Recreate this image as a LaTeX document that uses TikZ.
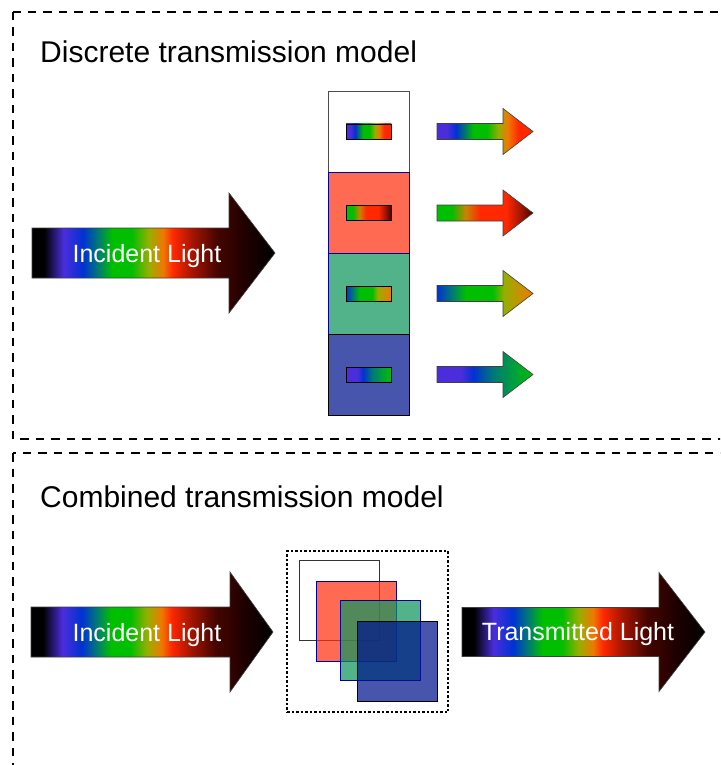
\documentclass[tikz,border=0pt]{standalone}
\usepackage{fontspec}
\setmainfont{Liberation Sans}
\usepackage{xcolor}
\usetikzlibrary{positioning}

% spectrum colours
\definecolor{spViolet}{RGB}{75,45,220}
\definecolor{spBlue}{RGB}{0,50,210}
\definecolor{spTeal}{RGB}{0,120,120}
\definecolor{spGreen}{RGB}{0,190,0}
\definecolor{spLime}{RGB}{150,175,0}
\definecolor{spAmber}{RGB}{205,130,0}
\definecolor{spOrange}{RGB}{240,120,0}
\definecolor{spRed}{RGB}{255,40,0}
\definecolor{spMaroon}{RGB}{165,20,0}
\definecolor{spBrown}{RGB}{70,5,0}
\definecolor{spDark}{RGB}{30,0,0}
\definecolor{spSea}{RGB}{0,160,60}
% filter colours (drawn at 72% opacity)
\definecolor{filtred}{RGB}{255,49,15}
\definecolor{filtgreen}{RGB}{15,149,93}
\definecolor{filtblue}{RGB}{0,21,140}

% the path box maps onto 25bp..75bp
\pgfdeclarehorizontalshading{spectrum}{100bp}{color(0bp)=(black); color(25bp)=(black);
  color(27.5bp)=(black); color(31.5bp)=(spViolet); color(35.5bp)=(spBlue);
  color(38.5bp)=(spTeal); color(41.5bp)=(spGreen); color(45.5bp)=(spGreen);
  color(49bp)=(spLime); color(52bp)=(spOrange); color(54bp)=(spRed);
  color(58bp)=(spMaroon); color(63bp)=(spBrown); color(69bp)=(spDark);
  color(75bp)=(black); color(100bp)=(black)}
\pgfdeclarehorizontalshading{specwhite}{100bp}{color(0bp)=(spViolet); color(25bp)=(spViolet);
  color(30bp)=(spViolet); color(35bp)=(spBlue); color(44bp)=(spGreen); color(51bp)=(spGreen);
  color(57bp)=(spLime); color(62bp)=(spOrange); color(67.5bp)=(spRed);
  color(75bp)=(spRed); color(100bp)=(spRed)}
\pgfdeclarehorizontalshading{specred}{100bp}{color(0bp)=(spGreen); color(25bp)=(spGreen);
  color(32.5bp)=(spGreen); color(40bp)=(spAmber); color(47.5bp)=(spRed);
  color(61bp)=(spRed); color(68.5bp)=(spMaroon); color(75bp)=(spBrown); color(100bp)=(spBrown)}
\pgfdeclarehorizontalshading{specgreen}{100bp}{color(0bp)=(spBlue); color(25bp)=(spBlue);
  color(32.5bp)=(spTeal); color(40bp)=(spGreen); color(54bp)=(spGreen);
  color(60bp)=(spLime); color(75bp)=(spOrange); color(100bp)=(spOrange)}
\pgfdeclarehorizontalshading{specblue}{100bp}{color(0bp)=(spViolet); color(25bp)=(spViolet);
  color(37.5bp)=(spViolet); color(44bp)=(spBlue); color(54bp)=(spTeal);
  color(65bp)=(spSea); color(75bp)=(spGreen); color(100bp)=(spGreen)}

\tikzstyle{filter} = [draw, line width=0.8pt, minimum size=81pt, inner sep=0pt, outer sep=0pt,
  fill opacity=0.72, draw opacity=1]
\tikzstyle{swatch} = [draw=black, line width=0.8pt, minimum width=45pt, minimum height=15pt,
  inner sep=0pt, shade]
\tikzstyle{beam} = [draw=black!75, line width=0.6pt]

% shading, tail x, centre y, head base x, tip x, shaft half width, head half width
\newcommand{\lightbeam}[7]{%
  \shade[beam, shading=#1] (#2,#3-#6) -- (#4,#3-#6) -- (#4,#3-#7) -- (#5,#3)
    -- (#4,#3+#7) -- (#4,#3+#6) -- (#2,#3+#6) -- cycle;}

\begin{document}
\begin{tikzpicture}[x=1pt, y=-1pt,
    section/.style={draw=black, line width=1.1pt, dash pattern=on 8.5pt off 7pt},
    title/.style={anchor=base west, inner sep=0pt, font=\fontsize{30}{36}\selectfont},
    beamtext/.style={anchor=base, inner sep=0pt, text=white, font=\fontsize{25}{30}\selectfont},
  ]
  \useasboundingbox (0,0) rectangle (720,765);
  \clip (0,0) rectangle (720,765);

  \draw[section] (13,12) rectangle (760,439);
  \draw[section] (13,453) rectangle (760,800);

  %% discrete model
  \node[title] (discrete) at (40,63) {Discrete transmission model};

  \lightbeam{spectrum}{32}{253}{229}{275}{25}{60}
  \node[beamtext] (incidenta) at (147,262) {Incident Light};

  \node[filter, draw=black!70, fill=white] (fwhite) at (368.5,131.5) {};
  \node[filter, draw=blue!60!black, fill=filtred, below=0pt of fwhite] (fred) {};
  \node[filter, draw=blue!60!black, fill=filtgreen, below=0pt of fred] (fgreen) {};
  \node[filter, draw=black, fill=filtblue, below=0pt of fgreen] (fblue) {};

  \node[swatch, shading=specwhite] (swwhite) at (fwhite.center) {};
  \node[swatch, shading=specred] (swred) at (fred.center) {};
  \node[swatch, shading=specgreen] (swgreen) at (fgreen.center) {};
  \node[swatch, shading=specblue] (swblue) at (fblue.center) {};

  \lightbeam{specwhite}{437}{131.5}{503}{533}{8}{23}
  \lightbeam{specred}{437}{213}{503}{533}{8}{23}
  \lightbeam{specgreen}{437}{293.5}{503}{533}{8}{23}
  \lightbeam{specblue}{437}{374.5}{503}{533}{8}{23}

  %% combined model
  \node[title] (combined) at (40,507) {Combined transmission model};

  \lightbeam{spectrum}{31}{632}{230}{273}{25}{60}
  \node[beamtext] (incidentb) at (147,641) {Incident Light};

  \node[draw, line width=1.3pt, dash pattern=on 2.5pt off 2pt, minimum size=161pt,
    inner sep=0pt] (stack) at (367.5,631.5) {};
  \node[filter, minimum size=80pt, draw=black!80, fill opacity=0] (cwhite) at (339,600) {};
  \node[filter, minimum size=80pt, draw=blue!60!black, fill=filtred] (cred) at (356.5,621) {};
  \node[filter, minimum size=80pt, draw=blue!60!black, fill=filtgreen] (cgreen) at (380,640.5) {};
  \node[filter, minimum size=80pt, draw=black, fill=filtblue] (cblue) at (397,661.5) {};

  \lightbeam{spectrum}{462}{632}{659}{705}{24.5}{59.5}
  \node[beamtext] (transmitted) at (578,640) {Transmitted Light};
\end{tikzpicture}
\end{document}
